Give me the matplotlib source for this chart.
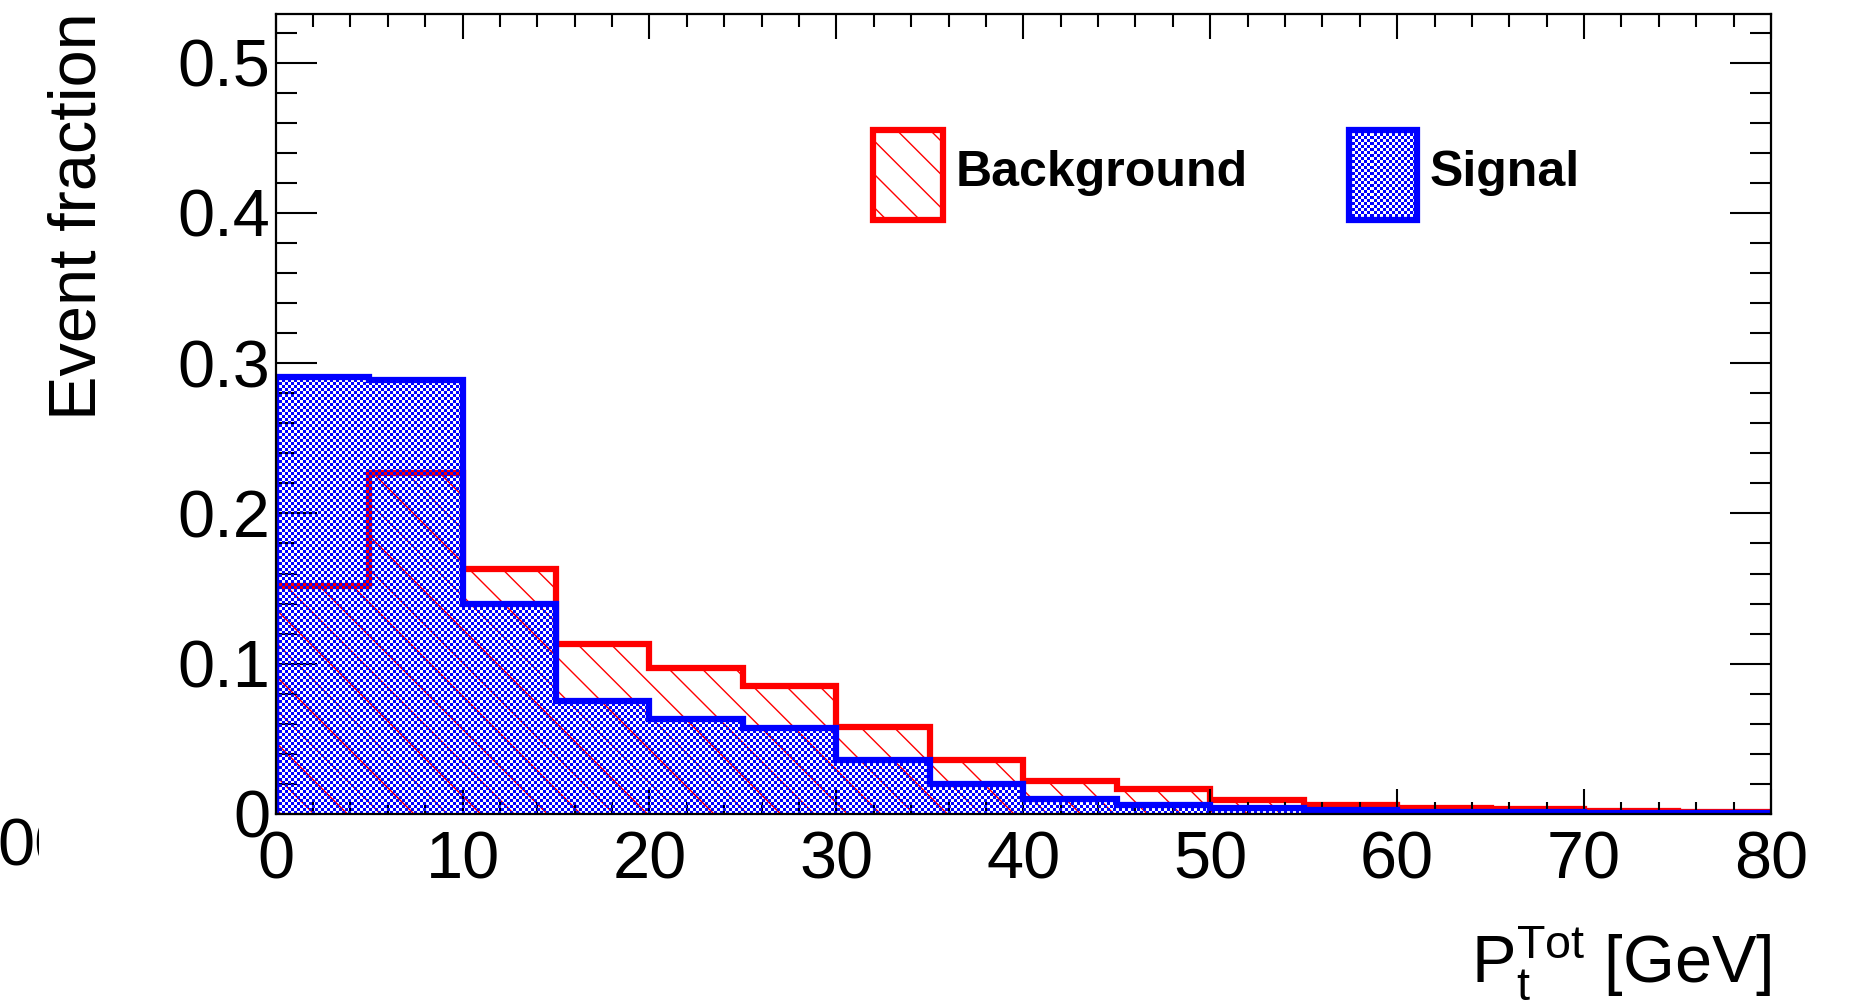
import numpy as np
import matplotlib
matplotlib.use("Agg")
import matplotlib.pyplot as plt
from matplotlib.patches import Rectangle
from matplotlib.ticker import MultipleLocator
from matplotlib.transforms import Bbox

plt.rcParams['font.family'] = ['Liberation Sans', 'DejaVu Sans']
plt.rcParams['mathtext.fontset'] = 'custom'
plt.rcParams['mathtext.rm'] = 'Liberation Sans'
plt.rcParams['mathtext.it'] = 'Liberation Sans'
plt.rcParams['hatch.linewidth'] = 1.0

# histogram contents (event fractions per 5 GeV bin)
edges = np.arange(0, 85, 5)
background = [0.152, 0.227, 0.163, 0.113, 0.097, 0.085, 0.058, 0.036,
              0.022, 0.0165, 0.0095, 0.006, 0.004, 0.003, 0.002, 0.0015]
signal = [0.291, 0.289, 0.140, 0.075, 0.063, 0.0575, 0.036, 0.020,
          0.010, 0.006, 0.004, 0.0025, 0.0015, 0.001, 0.0007, 0.0005]

xlabel = r'P$_{\mathregular{t}}^{\mathregular{Tot}}$ [GeV]'
ylabel = 'Event fraction'
names = ['Background', 'Signal']
stray = '00'

ymax = 0.5324
red = '#ff0000'
blue = '#0000ff'

W, H = 1855, 1007
fig = plt.figure(figsize=(W / 100, H / 100), dpi=100)
ax = fig.add_axes([0.1486, 0.1917, 0.8061, 0.7944])
ax.set_xlim(0, 80)
ax.set_ylim(0, ymax)


def checker(npx_w, npx_h, cell=3):
    # ROOT-like dotted fill: blue squares, transparent gaps
    yy, xx = np.mgrid[0:npx_h, 0:npx_w]
    on = ((xx // cell + yy // cell) % 2) == 0
    img = np.zeros((npx_h, npx_w, 4))
    img[on] = [0, 0, 1, 1]
    return img


# background: hatched fill + outline
ax.stairs(background, edges, fill=True, facecolor='none', edgecolor=red,
          hatch='\\', linewidth=0, zorder=1)
ax.stairs(background, edges, baseline=0, color=red, linewidth=4.5, zorder=2)

# signal: checker pattern clipped to the histogram shape + outline
sig_patch = ax.stairs(signal, edges, fill=True, facecolor='none',
                      edgecolor='none', linewidth=0, zorder=3)
im = ax.imshow(checker(1496, 800), extent=(0, 80, 0, ymax), aspect='auto',
               interpolation='nearest', origin='lower', zorder=3)
im.set_clip_path(sig_patch)
ax.stairs(signal, edges, baseline=0, color=blue, linewidth=4.5, zorder=4)

# axis styling (ROOT-like)
for s in ax.spines.values():
    s.set_linewidth(1.6)
    s.set_zorder(6)
ax.xaxis.set_major_locator(MultipleLocator(10))
ax.xaxis.set_minor_locator(MultipleLocator(2))
ax.yaxis.set_major_locator(MultipleLocator(0.1))
ax.yaxis.set_minor_locator(MultipleLocator(0.02))
ax.tick_params(which='both', direction='in', top=True, right=True,
               width=1.5, labelsize=48)
ax.tick_params(axis='x', which='major', length=18, pad=12)
ax.tick_params(axis='x', which='minor', length=9)
ax.tick_params(axis='y', which='major', length=29.5, pad=4)
ax.tick_params(axis='y', which='minor', length=15)
ax.set_yticks([0, 0.1, 0.2, 0.3, 0.4, 0.5])
ax.set_yticklabels(['0', '0.1', '0.2', '0.3', '0.4', '0.5'])
ax.set_axisbelow(False)

# legend drawn by hand
boxes = [(0.3995, 0.4463), (0.7178, 0.7633)]
ly0, ly1 = 0.7425, 0.855
for i, (name, (bx0, bx1)) in enumerate(zip(names, boxes)):
    if i == 0:
        ax.add_patch(Rectangle((bx0, ly0), bx1 - bx0, ly1 - ly0,
                               transform=ax.transAxes, facecolor='white',
                               edgecolor=red, hatch='\\', linewidth=0,
                               zorder=7))
        ax.add_patch(Rectangle((bx0, ly0), bx1 - bx0, ly1 - ly0,
                               transform=ax.transAxes, facecolor='none',
                               edgecolor=red, linewidth=4.5, zorder=8))
    else:
        rect = Rectangle((bx0, ly0), bx1 - bx0, ly1 - ly0,
                         transform=ax.transAxes, facecolor='white',
                         edgecolor='none', zorder=7)
        ax.add_patch(rect)
        lim = ax.imshow(checker(1496, 800), extent=(0, 80, 0, ymax),
                        aspect='auto', interpolation='nearest',
                        origin='lower', zorder=7.5)
        lim.set_clip_path(rect)
        ax.add_patch(Rectangle((bx0, ly0), bx1 - bx0, ly1 - ly0,
                               transform=ax.transAxes, facecolor='none',
                               edgecolor=blue, linewidth=4.5, zorder=8))
    ax.text(bx1 + 0.0087, 0.801, name, transform=ax.transAxes,
            fontsize=36, fontweight='bold', ha='left', va='center',
            zorder=9)
ax.set_xlim(0, 80)
ax.set_ylim(0, ymax)

fig.text(79 / W, 1 - 12 / H, ylabel, rotation=90, ha='center', va='top',
         fontsize=48)
fig.text(1771 / W, 1 - 982 / H, xlabel, ha='right', va='baseline',
         fontsize=48)
t = fig.text(-3 / W, 1 - 865 / H, stray, ha='left', va='baseline',
             fontsize=48)
t.set_clip_box(Bbox.from_extents(0, 0, 39, H))
t.set_clip_on(True)

fig.savefig('out.png', dpi=100)
